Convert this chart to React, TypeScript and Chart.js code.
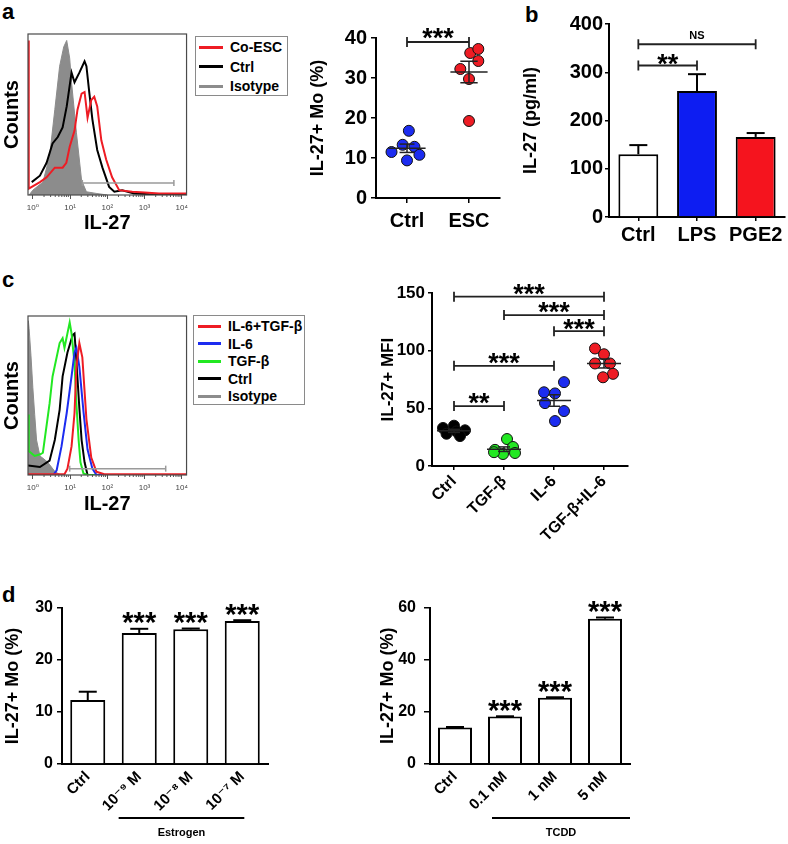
import React, { useEffect, useRef } from 'react';
import { Chart, registerables } from 'chart.js';

Chart.register(...registerables);

const FONT = '"Liberation Sans", Arial, "DejaVu Sans", sans-serif';

// ===== Histograms (x: log10 IL-27 intensity, y: % of max count) =====
const histTicks = [0, 1, 2, 3, 4];
const histTickLabels = ['10⁰', '10¹', '10²', '10³', '10⁴'];

// Panel a histogram
const aSeriesNames = ['Co-ESC', 'Ctrl', 'Isotype'];
const aSeriesColors = ['#ee1c24', '#000000', '#8c8c8c'];
const aCoEscX = [-0.125, -0.11, 0.19, 0.37, 0.59, 0.8, 0.9, 0.99, 1.12, 1.2, 1.31, 1.39, 1.47, 1.57, 1.65, 1.73, 1.84, 1.97, 2.13, 2.32, 2.67, 3.0, 3.39, 4.13];
const aCoEscY = [96, 4, 8, 11, 17, 17, 20, 30, 40, 53, 63, 64, 48, 59, 61, 55, 34, 22, 11, 3, 2, 1.5, 1, 1];
const aCtrlX = [-0.03, 0.19, 0.37, 0.53, 0.67, 0.8, 0.91, 1.04, 1.12, 1.25, 1.39, 1.44, 1.52, 1.6, 1.73, 1.87, 2.05, 2.19, 2.4, 2.72, 3.12, 4.13];
const aCtrlY = [8, 12, 20, 32, 36, 42, 55, 76, 70, 76, 83, 80, 63, 47, 28, 17, 5, 2, 3, 1, 0.5, 0];
const aIsoX = [-0.1, 0.0, 0.27, 0.45, 0.59, 0.72, 0.83, 0.91, 0.99, 1.04, 1.17, 1.31, 1.44, 1.7, 2.0];
const aIsoY = [0, 3, 8, 24, 53, 80, 92, 96, 85, 70, 39, 9, 2, 1, 0];
const aGate = [1.33, 3.79, 7.5];

// Panel c histogram
const cSeriesNames = ['IL-6+TGF-β', 'IL-6', 'TGF-β', 'Ctrl', 'Isotype'];
const cSeriesColors = ['#ee1c24', '#1c2cf0', '#22e822', '#000000', '#8c8c8c'];
const cIl6TgfX = [-0.13, 0.85, 0.93, 1.04, 1.12, 1.17, 1.25, 1.33, 1.44, 1.57, 1.71, 1.92, 4.13];
const cIl6TgfY = [0.5, 0.5, 4, 18, 39, 68, 83, 74, 35, 11, 2, 0.5, 0.5];
const cIl6X = [-0.13, 0.55, 0.64, 0.77, 0.91, 1.04, 1.12, 1.17, 1.25, 1.36, 1.47, 1.6, 1.71, 4.13];
const cIl6Y = [0, 0, 3, 18, 39, 62, 77, 80, 68, 40, 16, 4, 0, 0];
const cTgfX = [-0.13, -0.11, 0.05, 0.2, 0.27, 0.45, 0.53, 0.72, 0.8, 0.85, 0.99, 1.04, 1.12, 1.17, 1.23, 1.28, 1.36, 1.47, 4.13];
const cTgfY = [38, 15, 12, 13, 14, 45, 62, 83, 86, 80, 96, 89, 70, 45, 22, 8, 1, 0, 0];
const cCtrlX = [-0.13, 0.19, 0.45, 0.59, 0.72, 0.8, 0.93, 1.07, 1.12, 1.17, 1.25, 1.31, 1.39, 1.47, 4.13];
const cCtrlY = [6, 5, 9, 22, 41, 62, 77, 88, 89, 72, 42, 22, 8, 0, 0];
const cIsoX = [-0.13, -0.12, -0.1, -0.05, 0, 0.05, 0.1, 0.19, 0.3, 0.4, 0.5, 0.6, 0.75];
const cIsoY = [0, 97, 92, 75, 55, 38, 22, 12, 10, 8, 5, 2, 0];
const cGate = [0.99, 3.57, 4];

// ===== Panel a scatter =====
const aGroups = ['Ctrl', 'ESC'];
const aCtrlValues = [16.8, 13.3, 12.8, 11.5, 10.8, 9.4];
const aCtrlJitter = [0.03, -0.07, 0.12, -0.25, 0.2, 0];
const aEscValues = [36.25, 37.25, 34.25, 32.25, 29.75, 19.25];
const aEscJitter = [0.02, 0.15, 0.15, -0.14, 0, 0];
const aYTicks = [0, 10, 20, 30, 40];
const aBracketFrom = [0];
const aBracketTo = [1];
const aBracketY = [39];
const aBracketLabel = ['***'];

// ===== Panel b bars =====
const bCategories = ['Ctrl', 'LPS', 'PGE2'];
const bValues = [130, 261, 166];
const bErrors = [19, 35, 8];
const bColors = ['#ffffff', '#0d1df2', '#f5141e'];
const bYTicks = [0, 100, 200, 300, 400];
const bBracketFrom = [0, 0];
const bBracketTo = [1, 2];
const bBracketY = [314, 358];
const bBracketLabel = ['**', 'NS'];

// ===== Panel c scatter =====
const cGroups = ['Ctrl', 'TGF-β', 'IL-6', 'TGF-β+IL-6'];
const cGroupColors = ['#000000', '#22e822', '#1c2cf0', '#ee1c24'];
const cCtrlValues = [35, 33, 31, 30, 28, 26];
const cCtrlJitter = [0.0, -0.22, 0.22, 0.05, -0.15, 0.12];
const cTgfValues = [23.4, 14, 16.5, 10.4, 11.3, 12];
const cTgfJitter = [0.06, -0.18, 0.18, -0.02, 0.22, -0.2];
const cIl6Values = [72.8, 64, 63, 54.6, 47.7, 39];
const cIl6Jitter = [0.2, -0.2, 0.02, -0.18, 0.2, 0.02];
const cBothValues = [102, 97, 89, 89, 80, 77];
const cBothJitter = [-0.18, 0, -0.18, 0.12, 0.18, -0.02];
const cYTicks = [0, 50, 100, 150];
const cBracketFrom = [0, 1, 2, 0, 0];
const cBracketTo = [3, 3, 3, 2, 1];
const cBracketY = [147, 131, 117, 87, 52];
const cBracketLabel = ['***', '***', '***', '***', '**'];

// ===== Panel d bars =====
const dEstrogenCategories = ['Ctrl', '10⁻⁹ M', '10⁻⁸ M', '10⁻⁷ M'];
const dEstrogenValues = [12.3, 25.2, 25.9, 27.5];
const dEstrogenErrors = [1.6, 0.8, 0.15, 0.15];
const dEstrogenStars = ['', '***', '***', '***'];
const dEstrogenYTicks = [0, 10, 20, 30];
const dTcddCategories = ['Ctrl', '0.1 nM', '1 nM', '5 nM'];
const dTcddValues = [14, 18.2, 25.4, 55.7];
const dTcddErrors = [0.2, 0.1, 0.2, 0.5];
const dTcddStars = ['', '***', '***', '***'];
const dTcddYTicks = [0, 20, 40, 60];

// ---------------- helpers ----------------
const bf = (size: number) => ({ family: FONT, size, weight: 'bold' as const, lineHeight: 1.2 });

function line(ctx: CanvasRenderingContext2D, x1: number, y1: number, x2: number, y2: number) {
  ctx.beginPath();
  ctx.moveTo(x1, y1);
  ctx.lineTo(x2, y2);
  ctx.stroke();
}

function drawLabel(ctx: CanvasRenderingContext2D, text: string, x: number, yc: number, size: number) {
  ctx.font = `bold ${size}px ${FONT}`;
  ctx.textAlign = 'center';
  ctx.textBaseline = 'alphabetic';
  const isStar = /^\*+$/.test(text);
  ctx.fillText(text, x, yc + (isStar ? 0.57 : 0.36) * size);
}

function extras(ex: any) {
  return {
    id: 'extras',
    afterDatasetsDraw(chart: any) {
      const ctx = chart.ctx as CanvasRenderingContext2D;
      const xs = chart.scales.x;
      const ys = chart.scales.y;
      ctx.save();
      ctx.fillStyle = '#000';
      if (ex.gate) {
        const [f, t, lvl] = ex.gate;
        const x1 = xs.getPixelForValue(f), x2 = xs.getPixelForValue(t), y = ys.getPixelForValue(lvl);
        ctx.strokeStyle = '#9a9a9a';
        ctx.lineWidth = 1.5;
        line(ctx, x1, y, x2, y);
        line(ctx, x1, y - 3, x1, y + 3);
        line(ctx, x2, y - 3, x2, y + 3);
      }
      for (const g of ex.groups || []) {
        const n = g.values.length;
        const mean = g.values.reduce((s: number, v: number) => s + v, 0) / n;
        const sd = Math.sqrt(g.values.reduce((s: number, v: number) => s + (v - mean) * (v - mean), 0) / (n - 1));
        const sem = sd / Math.sqrt(n);
        const xc = xs.getPixelForValue(g.x);
        const hw = xs.getPixelForValue(g.x + g.half) - xc;
        const cw = xs.getPixelForValue(g.x + g.cap) - xc;
        const ym = ys.getPixelForValue(mean), yt = ys.getPixelForValue(mean + sem), yb = ys.getPixelForValue(mean - sem);
        ctx.strokeStyle = '#222';
        ctx.lineWidth = 1.5;
        line(ctx, xc - hw, ym, xc + hw, ym);
        line(ctx, xc, yt, xc, yb);
        line(ctx, xc - cw, yt, xc + cw, yt);
        line(ctx, xc - cw, yb, xc + cw, yb);
      }
      if (ex.barErr) {
        const { values, errs, cap } = ex.barErr;
        ctx.strokeStyle = '#000';
        ctx.lineWidth = 2;
        values.forEach((v: number, i: number) => {
          const x = xs.getPixelForValue(i);
          const y0 = ys.getPixelForValue(v), y1 = ys.getPixelForValue(v + errs[i]);
          line(ctx, x, y0, x, y1);
          line(ctx, x - cap, y1, x + cap, y1);
        });
      }
      if (ex.barStars) {
        const { labels, values, errs, size, gap } = ex.barStars;
        labels.forEach((lab: string, i: number) => {
          if (!lab) return;
          drawLabel(ctx, lab, xs.getPixelForValue(i), ys.getPixelForValue(values[i] + errs[i]) - gap, size);
        });
      }
      if (ex.brackets) {
        const { from, to, y, labels, size, gap, capH, nsSize } = ex.brackets;
        from.forEach((f: number, i: number) => {
          const x1 = xs.getPixelForValue(f), x2 = xs.getPixelForValue(to[i]), yy = ys.getPixelForValue(y[i]);
          ctx.strokeStyle = '#222';
          ctx.lineWidth = 1.8;
          line(ctx, x1, yy, x2, yy);
          line(ctx, x1, yy - capH, x1, yy + capH);
          line(ctx, x2, yy - capH, x2, yy + capH);
          const isStar = /^\*+$/.test(labels[i]);
          drawLabel(ctx, labels[i], (x1 + x2) / 2, yy - (isStar ? gap : gap + 1), isStar ? size : nsSize);
        });
      }
      ctx.restore();
    },
    afterDraw(chart: any) {
      const ctx = chart.ctx as CanvasRenderingContext2D;
      const ca = chart.chartArea;
      const xs = chart.scales.x;
      ctx.save();
      if (ex.frame) {
        ctx.strokeStyle = '#4a4a4a';
        ctx.lineWidth = 1.2;
        ctx.strokeRect(ca.left, ca.top, ca.right - ca.left, ca.bottom - ca.top);
      }
      if (ex.minorLog) {
        ctx.strokeStyle = '#555';
        ctx.lineWidth = 1;
        for (let d = 0; d < 4; d++) {
          for (let m = 2; m < 10; m++) {
            const x = xs.getPixelForValue(d + Math.log10(m));
            line(ctx, x, ca.bottom, x, ca.bottom + 2);
          }
        }
      }
      if (ex.underline) {
        const { from, to, label, dy, size } = ex.underline;
        const x1 = xs.getPixelForValue(from), x2 = xs.getPixelForValue(to);
        const y = ca.bottom + dy;
        ctx.strokeStyle = '#000';
        ctx.lineWidth = 2;
        line(ctx, x1, y, x2, y);
        ctx.fillStyle = '#000';
        drawLabel(ctx, label, (x1 + x2) / 2, y + 14, size);
      }
      ctx.restore();
    },
  };
}

function yAxis(o: any) {
  return {
    type: 'linear',
    min: o.min,
    max: o.max,
    afterBuildTicks: (s: any) => { s.ticks = o.ticks.map((v: number) => ({ value: v })); },
    afterFit: (s: any) => { s.width = o.width; },
    ticks: { font: bf(o.tickSize), padding: o.tickPad, color: '#000' },
    grid: { display: true, drawOnChartArea: false, drawTicks: true, tickLength: o.tickLen, color: '#000', lineWidth: 1.5 },
    border: { display: true, color: '#000', width: 2 },
    title: { display: true, text: o.title, font: bf(o.titleSize), padding: { top: o.titlePad, bottom: 0 }, color: '#000' },
  };
}

const baseOptions = (pad: any) => ({
  responsive: false,
  animation: false,
  events: [],
  layout: { padding: pad },
  plugins: { legend: { display: false }, tooltip: { enabled: false } },
});

const toPts = (xs: number[], ys: number[]) => xs.map((x, i) => ({ x, y: ys[i] }));

function histConfig(series: { x: number[]; y: number[]; color: string; fill?: boolean }[], gate: number[], xTitleH: number) {
  return {
    type: 'line',
    data: {
      datasets: series.map((s) => ({
        data: toPts(s.x, s.y),
        borderColor: s.color,
        backgroundColor: s.color,
        borderWidth: s.fill ? 1 : 2,
        fill: s.fill ? 'origin' : false,
        pointRadius: 0,
        tension: 0,
      })),
    },
    options: {
      ...baseOptions({ top: 4, right: 4, left: 0, bottom: 0 }),
      scales: {
        x: {
          type: 'linear',
          min: -0.13,
          max: 4.13,
          afterBuildTicks: (s: any) => { s.ticks = histTicks.map((v) => ({ value: v })); },
          afterFit: (s: any) => { s.height = xTitleH; },
          ticks: { callback: (v: number) => histTickLabels[histTicks.indexOf(v)], font: { family: FONT, size: 8 }, color: '#444', padding: 4, maxRotation: 0 },
          grid: { display: true, drawOnChartArea: false, drawTicks: true, tickLength: 4, color: '#555' },
          border: { display: false },
          title: { display: true, text: 'IL-27', font: bf(20), padding: 0, color: '#000' },
        },
        y: {
          type: 'linear',
          min: 0,
          max: 100,
          afterFit: (s: any) => { s.width = 28; },
          ticks: { display: false },
          grid: { display: false },
          border: { display: false },
          title: { display: true, text: 'Counts', font: bf(20), padding: 0, color: '#000' },
        },
      },
    },
    plugins: [extras({ frame: true, minorLog: true, gate })],
  };
}

const makeHistA = () =>
  histConfig(
    [
      { x: aCoEscX, y: aCoEscY, color: aSeriesColors[0] },
      { x: aCtrlX, y: aCtrlY, color: aSeriesColors[1] },
      { x: aIsoX, y: aIsoY, color: aSeriesColors[2], fill: true },
    ],
    aGate,
    40
  );

const makeHistC = () =>
  histConfig(
    [
      { x: cIl6TgfX, y: cIl6TgfY, color: cSeriesColors[0] },
      { x: cIl6X, y: cIl6Y, color: cSeriesColors[1] },
      { x: cTgfX, y: cTgfY, color: cSeriesColors[2] },
      { x: cCtrlX, y: cCtrlY, color: cSeriesColors[3] },
      { x: cIsoX, y: cIsoY, color: cSeriesColors[4], fill: true },
    ],
    cGate,
    41
  );

const pointDs = (vals: number[], jit: number[], gi: number, color: string) => ({
  data: vals.map((v, i) => ({ x: gi + jit[i], y: v })),
  backgroundColor: color,
  borderColor: '#111',
  borderWidth: 1,
  pointRadius: 5.5,
});

const makeScatterA = () => ({
  type: 'scatter',
  data: {
    datasets: [pointDs(aCtrlValues, aCtrlJitter, 0, '#1c2cf0'), pointDs(aEscValues, aEscJitter, 1, '#ee1c24')],
  },
  options: {
    ...baseOptions({ top: 18, right: 10, left: 0, bottom: 0 }),
    scales: {
      x: {
        type: 'linear',
        min: -0.5,
        max: 1.5,
        afterBuildTicks: (s: any) => { s.ticks = aGroups.map((_, i) => ({ value: i })); },
        afterFit: (s: any) => { s.height = 40; },
        ticks: { callback: (v: number) => aGroups[v], font: bf(20), padding: 6, maxRotation: 0, color: '#000' },
        grid: { display: true, drawOnChartArea: false, drawTicks: true, tickLength: 5, color: '#000', lineWidth: 1.5 },
        border: { display: true, color: '#000', width: 2 },
      },
      y: yAxis({ min: 0, max: 40, ticks: aYTicks, width: 76, tickSize: 20, tickPad: 4, tickLen: 5, title: 'IL-27+ Mo (%)', titleSize: 18, titlePad: 7 }),
    },
  },
  plugins: [
    extras({
      groups: [
        { x: 0, values: aCtrlValues, half: 0.3, cap: 0.12 },
        { x: 1, values: aEscValues, half: 0.3, cap: 0.14 },
      ],
      brackets: { from: aBracketFrom, to: aBracketTo, y: aBracketY, labels: aBracketLabel, size: 27, gap: 10, capH: 5, nsSize: 11 },
    }),
  ],
});

const makeBarB = () => ({
  type: 'bar',
  data: {
    labels: bCategories,
    datasets: [{ data: bValues, backgroundColor: bColors, borderColor: '#000', borderWidth: 2, categoryPercentage: 1, barPercentage: 0.68 }],
  },
  options: {
    ...baseOptions({ top: 14, right: 3, left: 0, bottom: 0 }),
    scales: {
      x: {
        type: 'category',
        offset: true,
        afterFit: (s: any) => { s.height = 40; },
        ticks: { font: bf(20), padding: 2, maxRotation: 0, autoSkip: false, color: '#000' },
        grid: { display: true, offset: false, drawOnChartArea: false, drawTicks: true, tickLength: 4, color: '#000', lineWidth: 1.5 },
        border: { display: true, color: '#000', width: 2 },
      },
      y: yAxis({ min: 0, max: 400, ticks: bYTicks, width: 89, tickSize: 20, tickPad: 2, tickLen: 4, title: 'IL-27 (pg/ml)', titleSize: 18, titlePad: 0 }),
    },
  },
  plugins: [
    extras({
      barErr: { values: bValues, errs: bErrors, cap: 9 },
      brackets: { from: bBracketFrom, to: bBracketTo, y: bBracketY, labels: bBracketLabel, size: 27, gap: 8, capH: 5, nsSize: 11 },
    }),
  ],
});

const makeScatterC = () => ({
  type: 'scatter',
  data: {
    datasets: [
      pointDs(cCtrlValues, cCtrlJitter, 0, cGroupColors[0]),
      pointDs(cTgfValues, cTgfJitter, 1, cGroupColors[1]),
      pointDs(cIl6Values, cIl6Jitter, 2, cGroupColors[2]),
      pointDs(cBothValues, cBothJitter, 3, cGroupColors[3]),
    ],
  },
  options: {
    ...baseOptions({ top: 13, right: 7, left: 0, bottom: 0 }),
    scales: {
      x: {
        type: 'linear',
        min: -0.44,
        max: 3.48,
        afterBuildTicks: (s: any) => { s.ticks = cGroups.map((_, i) => ({ value: i })); },
        afterFit: (s: any) => { s.height = 100; },
        ticks: { callback: (v: number) => cGroups[v], font: bf(16), padding: 2, maxRotation: 45, minRotation: 45, color: '#000' },
        grid: { display: true, drawOnChartArea: false, drawTicks: true, tickLength: 4, color: '#000', lineWidth: 1.5 },
        border: { display: true, color: '#000', width: 2 },
      },
      y: yAxis({ min: 0, max: 150, ticks: cYTicks, width: 57, tickSize: 17, tickPad: 3, tickLen: 4, title: 'IL-27+ MFI', titleSize: 17, titlePad: 3 }),
    },
  },
  plugins: [
    extras({
      groups: [
        { x: 0, values: cCtrlValues, half: 0.34, cap: 0.12 },
        { x: 1, values: cTgfValues, half: 0.34, cap: 0.12 },
        { x: 2, values: cIl6Values, half: 0.34, cap: 0.12 },
        { x: 3, values: cBothValues, half: 0.34, cap: 0.12 },
      ],
      brackets: { from: cBracketFrom, to: cBracketTo, y: cBracketY, labels: cBracketLabel, size: 27, gap: 9, capH: 5, nsSize: 11 },
    }),
  ],
});

function dBarConfig(o: any) {
  return {
    type: 'bar',
    data: {
      labels: o.categories,
      datasets: [{ data: o.values, backgroundColor: '#ffffff', borderColor: '#000', borderWidth: 2, categoryPercentage: 1, barPercentage: 0.68 }],
    },
    options: {
      ...baseOptions({ top: o.padTop, right: o.padRight, left: 0, bottom: 0 }),
      scales: {
        x: {
          type: 'category',
          offset: true,
          afterFit: (s: any) => { s.height = 80; },
          ticks: { font: bf(15), padding: 4, maxRotation: 45, minRotation: 45, autoSkip: false, color: '#000' },
          grid: { display: true, offset: false, drawOnChartArea: false, drawTicks: false },
          border: { display: true, color: '#000', width: 2 },
        },
        y: yAxis({ min: 0, max: o.max, ticks: o.yTicks, width: o.yWidth, tickSize: 16, tickPad: o.tickPad, tickLen: o.tickLen, title: 'IL-27+ Mo (%)', titleSize: 18, titlePad: o.titlePad }),
      },
    },
    plugins: [
      extras({
        barErr: { values: o.values, errs: o.errors, cap: 9 },
        barStars: { labels: o.stars, values: o.values, errs: o.errors, size: 29, gap: 13 },
        underline: { from: o.lineFrom, to: o.lineTo, label: o.group, dy: 54, size: 11 },
      }),
    ],
  };
}

const makeBarD1 = () =>
  dBarConfig({
    categories: dEstrogenCategories, values: dEstrogenValues, errors: dEstrogenErrors, stars: dEstrogenStars,
    yTicks: dEstrogenYTicks, max: 30, padTop: 18, padRight: 7, yWidth: 62, tickPad: 4, tickLen: 5, titlePad: 2,
    group: 'Estrogen', lineFrom: 0.6, lineTo: 3.04,
  });

const makeBarD2 = () =>
  dBarConfig({
    categories: dTcddCategories, values: dTcddValues, errors: dTcddErrors, stars: dTcddStars,
    yTicks: dTcddYTicks, max: 60, padTop: 16, padRight: 5, yWidth: 60, tickPad: 8, tickLen: 6, titlePad: 7,
    group: 'TCDD', lineFrom: 0.74, lineTo: 3.5,
  });

function ChartCanvas({ x, y, w, h, make }: { x: number; y: number; w: number; h: number; make: () => any }) {
  const ref = useRef<HTMLCanvasElement>(null);
  useEffect(() => {
    const chart = new Chart(ref.current as HTMLCanvasElement, make());
    return () => chart.destroy();
  }, [make]);
  return <canvas ref={ref} width={w} height={h} style={{ position: 'absolute', left: x, top: y, width: w, height: h }} />;
}

function Legend({ left, top, width, height, names, colors, rowStart, rowStep, swLeft, swWidth, textLeft, size }: any) {
  return (
    <div style={{ position: 'absolute', left, top, width, height, border: '1px solid #8a8a8a', boxSizing: 'border-box', background: '#fff' }}>
      {names.map((n: string, i: number) => {
        const cy = rowStart + i * rowStep;
        return (
          <React.Fragment key={n}>
            <div style={{ position: 'absolute', left: swLeft, top: cy - 1.5, width: swWidth, height: 3, background: colors[i] }} />
            <div style={{ position: 'absolute', left: textLeft, top: cy - size / 2, fontFamily: FONT, fontWeight: 'bold', fontSize: size, lineHeight: `${size}px`, whiteSpace: 'nowrap', color: '#000' }}>{n}</div>
          </React.Fragment>
        );
      })}
    </div>
  );
}

const panelLabel = (t: string, left: number, top: number) => (
  <div style={{ position: 'absolute', left, top, fontFamily: FONT, fontWeight: 'bold', fontSize: 22, lineHeight: '22px', color: '#000' }}>{t}</div>
);

export default function App() {
  return (
    <div style={{ position: 'absolute', left: 0, top: 0, width: 788, height: 844, background: '#fff', overflow: 'hidden' }}>
      {panelLabel('a', 2, 1)}
      {panelLabel('b', 525, 4)}
      {panelLabel('c', 2, 269)}
      {panelLabel('d', 2, 584)}
      <ChartCanvas x={0} y={30} w={192} h={205} make={makeHistA} />
      <Legend left={195} top={36} width={93} height={60} names={aSeriesNames} colors={aSeriesColors} rowStart={10} rowStep={19.5} swLeft={3} swWidth={24} textLeft={34} size={14} />
      <ChartCanvas x={300} y={20} w={210} h={218} make={makeScatterA} />
      <ChartCanvas x={520} y={10} w={268} h={247} make={makeBarB} />
      <ChartCanvas x={0} y={312} w={192} h={204} make={makeHistC} />
      <Legend left={193} top={315} width={112} height={90} names={cSeriesNames} colors={cSeriesColors} rowStart={10} rowStep={17.5} swLeft={4} swWidth={23} textLeft={34} size={14} />
      <ChartCanvas x={375} y={280} w={260} h={286} make={makeScatterC} />
      <ChartCanvas x={0} y={590} w={275} h={254} make={makeBarD1} />
      <ChartCanvas x={370} y={590} w={265} h={254} make={makeBarD2} />
    </div>
  );
}
